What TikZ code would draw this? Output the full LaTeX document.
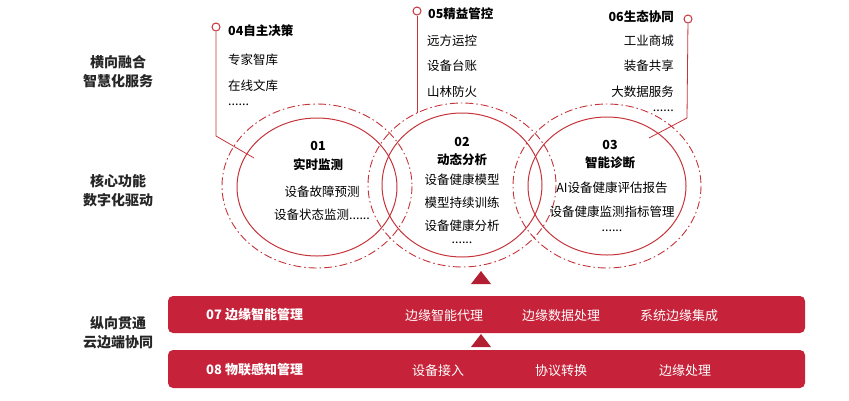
\documentclass[tikz,border=0pt]{standalone}
\usepackage{fontspec}
\setmainfont{Noto Sans CJK SC}
\usetikzlibrary{positioning}
\definecolor{ringred}{HTML}{C4343A}
\definecolor{barred}{HTML}{C62239}
\begin{document}
\begin{tikzpicture}[x=1pt,y=-1pt,
            ring/.style = {draw=ringred,line width=1pt},
            dashring/.style = {draw=ringred,line width=0.9pt,dash pattern=on 8pt off 3pt on 1.5pt off 3pt},
            lead/.style = {draw=ringred,line width=0.8pt},
            pin/.style = {draw=ringred,line width=1pt,fill=white,circle,inner sep=0pt,minimum size=8pt},
            head/.style = {font=\bfseries\fontsize{12.5}{14}\selectfont,inner sep=1pt},
            item/.style = {font=\fontsize{12.5}{14}\selectfont,inner sep=1pt},
            side/.style = {font=\bfseries\fontsize{14}{19}\selectfont,align=center,text=black!85},
            bar/.style = {fill=barred,rounded corners=5pt},
            bartext/.style = {text=white,font=\fontsize{13}{15}\selectfont,inner sep=1pt},
            tri/.style = {fill=barred!90!black}]
  \useasboundingbox (0,0) rectangle (849,400);
  % rings
  \draw[dashring] (317,186) ellipse (95 and 82);
  \draw[dashring] (462,185) ellipse (94 and 82);
  \draw[dashring] (607,186) ellipse (94 and 82);
  \draw[ring] (317,187) ellipse (80 and 69);
  \draw[ring] (462,185) ellipse (80 and 72);
  \draw[ring] (607,186) ellipse (79 and 69);
  % ring texts
  \node[head] (n01) at (318,146) {01};
  \node[head] (t01) at (318,165) {实时监测};
  \node[item] (a01) at (322,192) {设备故障预测};
  \node[item] (b01) at (322,215) {设备状态监测......};
  \node[head] (n02) at (462,142) {02};
  \node[head] (t02) at (462,160) {动态分析};
  \node[item] (a02) at (462,180) {设备健康模型};
  \node[item] (b02) at (462,203) {模型持续训练};
  \node[item] (c02) at (462,226) {设备健康分析};
  \node[item] (d02) at (462,243) {......};
  \node[head] (n03) at (610,145) {03};
  \node[head] (t03) at (610,163) {智能诊断};
  \node[item] (a03) at (612,188) {AI设备健康评估报告};
  \node[item] (b03) at (612,212) {设备健康监测指标管理};
  \node[item] (c03) at (612,231) {......};
  % callouts
  \node[pin] (p04) at (216,27) {};
  \coordinate (k04) at (216,136);
  \coordinate (e04) at (254,158);
  \draw[lead] (p04) -- (k04) -- (e04);
  \node[head,anchor=west] (h04) at (227,31) {04自主决策};
  \node[item,anchor=west] (i04a) at (227,60) {专家智库};
  \node[item,anchor=west] (i04b) at (227,86) {在线文库};
  \node[item,anchor=west] (i04c) at (227,105) {......};
  \node[pin] (p05) at (417,11) {};
  \coordinate (e05) at (417,113);
  \draw[lead] (p05) -- (e05);
  \node[head,anchor=west] (h05) at (427,14) {05精益管控};
  \node[item,anchor=west] (i05a) at (426,41) {远方运控};
  \node[item,anchor=west] (i05b) at (426,66) {设备台账};
  \node[item,anchor=west] (i05c) at (426,92) {山林防火};
  \node[pin] (p06) at (688,19) {};
  \coordinate (k06) at (687,118);
  \coordinate (e06) at (649,138);
  \draw[lead] (p06) -- (k06) -- (e06);
  \node[head,anchor=east] (h06) at (675,17) {06生态协同};
  \node[item,anchor=east] (i06a) at (675,41) {工业商城};
  \node[item,anchor=east] (i06b) at (675,66) {装备共享};
  \node[item,anchor=east] (i06c) at (675,92) {大数据服务};
  \node[item,anchor=east] (i06d) at (675,111) {......};
  % side labels
  \node[side] (s1) at (118,72) {横向融合\\智慧化服务};
  \node[side] (s2) at (118,191) {核心功能\\数字化驱动};
  \node[side] (s3) at (118,333) {纵向贯通\\云边端协同};
  % bars
  \fill[bar] (168,296) rectangle (805,333);
  \fill[bar] (168,350) rectangle (805,388);
  \fill[tri] (471,284) -- (491,284) -- (481,271) -- cycle;
  \fill[tri] (471,347) -- (491,347) -- (481,334) -- cycle;
  \node[bartext,font=\bfseries\fontsize{13}{15}\selectfont,anchor=west] (l07) at (205,315) {07 边缘智能管理};
  \node[bartext] (x07a) at (444,316) {边缘智能代理};
  \node[bartext] (x07b) at (561,316) {边缘数据处理};
  \node[bartext] (x07c) at (679,316) {系统边缘集成};
  \node[bartext,font=\bfseries\fontsize{13}{15}\selectfont,anchor=west] (l08) at (205,370) {08 物联感知管理};
  \node[bartext] (x08a) at (438,371) {设备接入};
  \node[bartext] (x08b) at (561,371) {协议转换};
  \node[bartext] (x08c) at (685,371) {边缘处理};
\end{tikzpicture}
\end{document}
